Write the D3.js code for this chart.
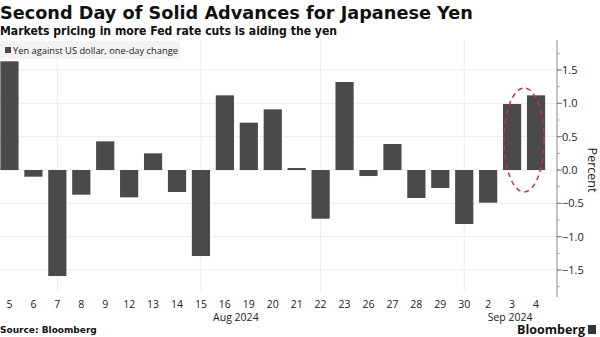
<!DOCTYPE html>
<html><head><meta charset="utf-8">
<script src="https://cdn.jsdelivr.net/npm/d3@7"></script>
<style>body{margin:0;background:#fff}svg{display:block}</style>
</head><body>
<script>
const categories = ["5","6","7","8","9","12","13","14","15","16","19","20","21","22","23","26","27","28","29","30","2","3","4"];
const values = [1.63,-0.10,-1.59,-0.37,0.43,-0.41,0.25,-0.33,-1.29,1.12,0.71,0.91,0.03,-0.73,1.32,-0.09,0.39,-0.42,-0.27,-0.81,-0.49,0.99,1.12];
const yTicks = [-1.5,-1.0,-0.5,0.0,0.5,1.0,1.5];
const gridDays = ["7","15","22","30"];
const monthLabels = [{at:"16", label:"Aug 2024"},{at:"3", label:"Sep 2024"}];

const W=600,H=337;
const svg=d3.select("body").append("svg").attr("width",W).attr("height",H);
const x=d3.scaleBand().domain(categories).range([-2.5,548]).paddingInner(0.24).paddingOuter(0.12);
const y=d3.scaleLinear().domain([-1.9,1.95]).range([296.7,40]);

svg.append("text").attr("x",0).attr("y",19).attr("font-family","DejaVu Sans").attr("font-weight","bold").attr("font-size",17.7).attr("fill","#111").text("Second Day of Solid Advances for Japanese Yen");
svg.append("text").attr("x",0).attr("y",35).attr("font-family","DejaVu Sans Condensed, DejaVu Sans").attr("font-weight","bold").attr("font-size",12.3).attr("fill","#111")
  .attr("textLength",337).attr("lengthAdjust","spacingAndGlyphs").text("Markets pricing in more Fed rate cuts is aiding the yen");

// gridlines
svg.append("g").selectAll("line").data(yTicks).join("line")
  .attr("x1",0).attr("x2",557).attr("y1",d=>y(d)).attr("y2",d=>y(d)).attr("stroke","#ececec").attr("stroke-width",1);
svg.append("g").selectAll("line").data(gridDays).join("line")
  .attr("x1",d=>x(d)+x.bandwidth()/2).attr("x2",d=>x(d)+x.bandwidth()/2).attr("y1",40).attr("y2",292).attr("stroke","#ececec");

// legend
svg.append("rect").attr("x",0).attr("y",41).attr("width",180).attr("height",18).attr("fill","#f3f3f3");
svg.append("rect").attr("x",5).attr("y",47).attr("width",6).attr("height",6).attr("fill","#4a4a4a");
svg.append("text").attr("x",13).attr("y",54).attr("font-family","Open Sans").attr("font-size",9.3).attr("fill","#222").text("Yen against US dollar, one-day change");

// bars
svg.append("g").selectAll("rect").data(values).join("rect")
  .attr("x",(d,i)=>x(categories[i])).attr("width",x.bandwidth())
  .attr("y",d=>y(Math.max(0,d))).attr("height",d=>Math.abs(y(d)-y(0)))
  .attr("fill","#4a4a4a");

// y axis
const ax=svg.append("g").attr("transform","translate(557,0)");
ax.append("line").attr("y1",40).attr("y2",297).attr("stroke","#888");
const minor=d3.range(-1.75,1.76,0.25);
ax.selectAll("line.m").data(minor).join("line").attr("class","m").attr("x1",0).attr("x2",2.5).attr("y1",d=>y(d)).attr("y2",d=>y(d)).attr("stroke","#999");
ax.selectAll("line.t").data(yTicks).join("line").attr("class","t").attr("x1",0).attr("x2",5).attr("y1",d=>y(d)).attr("y2",d=>y(d)).attr("stroke","#777");
ax.selectAll("text").data(yTicks).join("text").attr("x",5).attr("y",d=>y(d)+4).attr("font-family","Open Sans").attr("font-size",11).attr("fill","#222")
  .text(d=>d3.format(".1f")(d));
svg.append("text").attr("transform","translate(588,170) rotate(90)").attr("text-anchor","middle").attr("font-family","Open Sans").attr("font-size",12.5).attr("fill","#222").text("Percent");

// x labels
svg.append("g").selectAll("text").data(categories).join("text")
  .attr("x",d=>x(d)+x.bandwidth()/2).attr("y",308).attr("text-anchor","middle").attr("font-family","Open Sans").attr("font-size",10.5).attr("fill","#222").text(d=>d);
const monthShift = {"16":11, "3":-2};
svg.append("g").selectAll("text").data(monthLabels).join("text")
  .attr("x",d=>x(d.at)+x.bandwidth()/2+monthShift[d.at]).attr("y",321).attr("text-anchor","middle").attr("font-family","Open Sans").attr("font-size",10.5).attr("fill","#222").text(d=>d.label);

// ellipse
const cx=(x("3")+x("4")+x.bandwidth())/2;
const cy=y(0.45);
svg.append("ellipse").attr("cx",cx).attr("cy",cy).attr("rx",20).attr("ry",52)
  .attr("fill","none").attr("stroke","#c8333f").attr("stroke-width",1.5).attr("stroke-dasharray","5,4");

// footer
svg.append("text").attr("x",0).attr("y",333).attr("font-family","DejaVu Sans").attr("font-weight","bold").attr("font-size",9).attr("fill","#111").text("Source: Bloomberg");
svg.append("text").attr("x",585).attr("y",334).attr("text-anchor","end").attr("font-family","Open Sans").attr("font-weight","bold").attr("font-size",12.5).attr("fill","#111").text("Bloomberg");
svg.append("rect").attr("x",588).attr("y",325).attr("width",8).attr("height",9).attr("fill","#333");
</script>
</body></html>
